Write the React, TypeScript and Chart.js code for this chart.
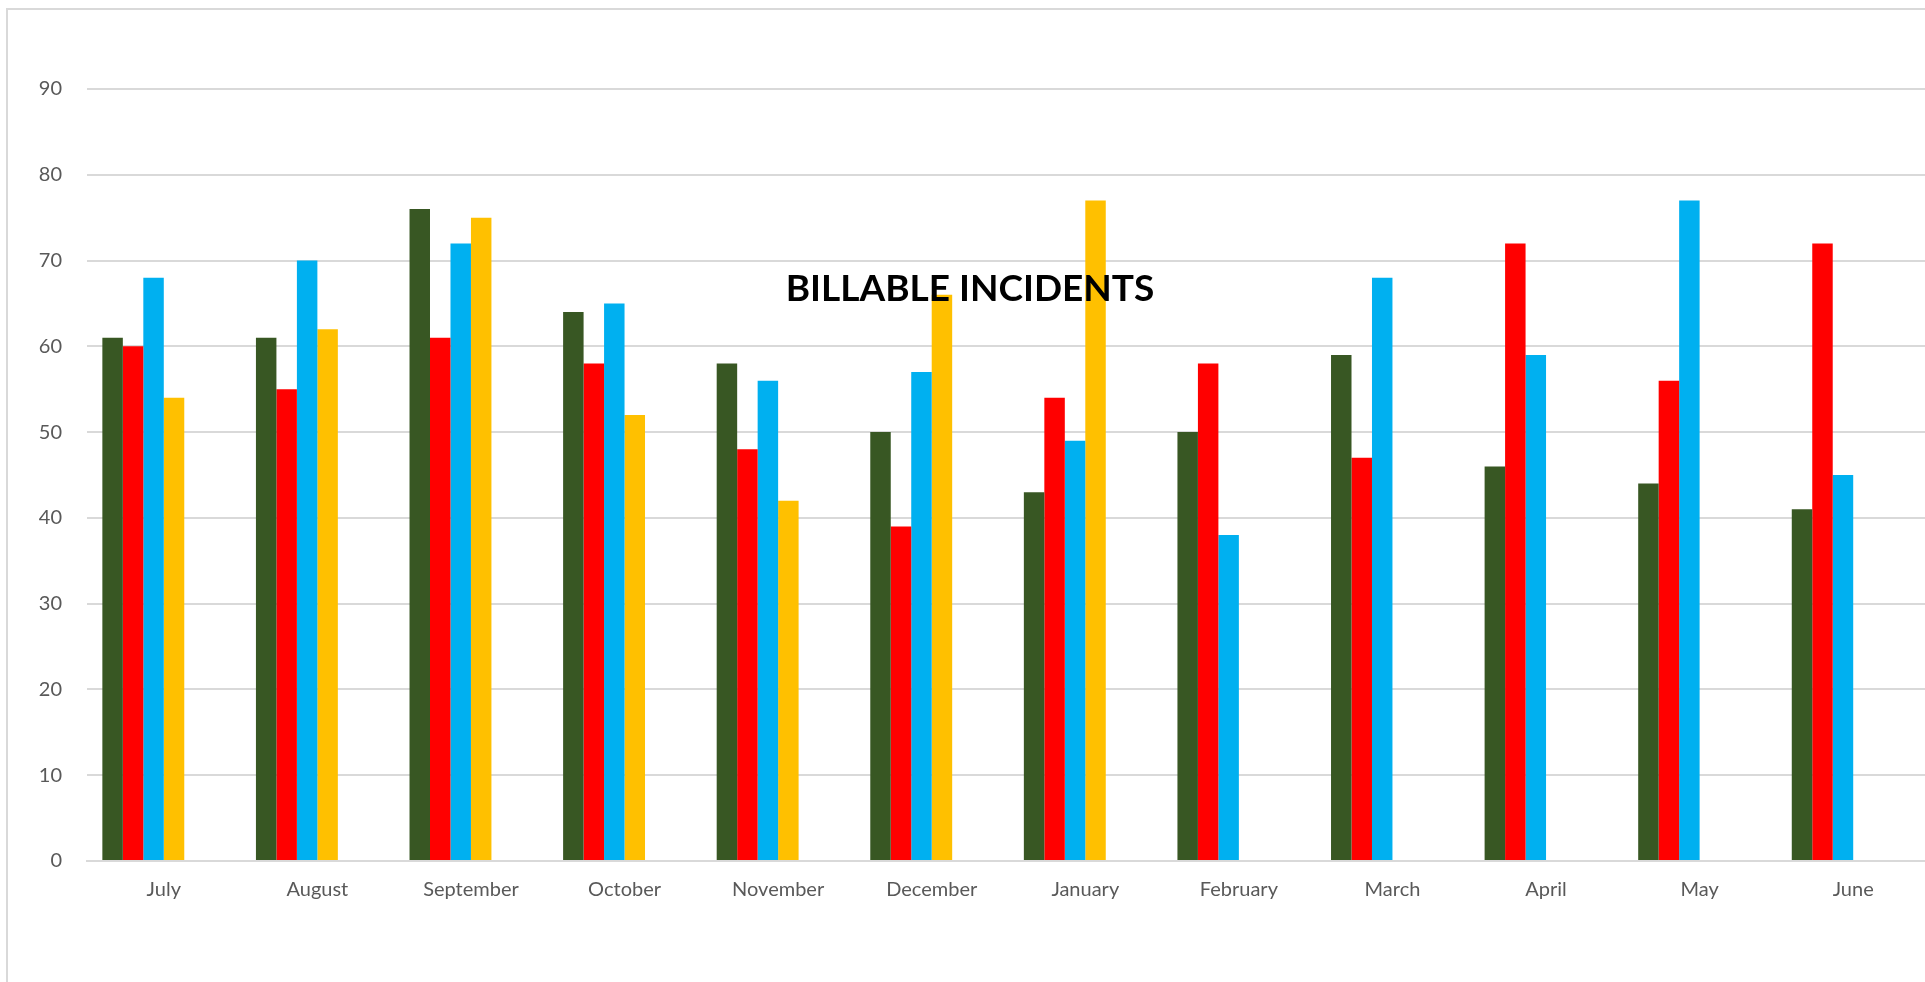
import { useEffect, useRef } from "react";
import { Chart, registerables } from "chart.js";

Chart.register(...registerables);

// Monthly billable incident counts, one array per series
const months = [
  "July", "August", "September", "October", "November", "December",
  "January", "February", "March", "April", "May", "June",
];
const seriesGreen = [61, 61, 76, 64, 58, 50, 43, 50, 59, 46, 44, 41];
const seriesRed = [60, 55, 61, 58, 48, 39, 54, 58, 47, 72, 56, 72];
const seriesBlue = [68, 70, 72, 65, 56, 57, 49, 38, 68, 59, 77, 45];
const seriesYellow = [54, 62, 75, 52, 42, 66, 77, null, null, null, null, null];
// Two further series in the workbook have no entries yet
const seriesFive = [null, null, null, null, null, null, null, null, null, null, null, null];
const seriesSix = [null, null, null, null, null, null, null, null, null, null, null, null];

const seriesColors = ["#385723", "#FF0000", "#00B0F0", "#FFC000", "#A5A5A5", "#4472C4"];
const yMin = 0;
const yMax = 90;
const yStep = 10;
const chartTitle = "BILLABLE INCIDENTS";

const overlayTitle = {
  id: "overlayTitle",
  afterDatasetsDraw(chart: any) {
    const ctx = chart.ctx;
    ctx.save();
    ctx.font = "bold 37px Lato";
    ctx.fillStyle = "#000000";
    ctx.textAlign = "center";
    ctx.textBaseline = "alphabetic";
    ctx.fillText(chartTitle, 970, 301);
    ctx.restore();
  },
};

export default function App() {
  const canvasRef = useRef<HTMLCanvasElement | null>(null);

  useEffect(() => {
    const canvas = canvasRef.current;
    if (!canvas) return;
    const series = [seriesGreen, seriesRed, seriesBlue, seriesYellow, seriesFive, seriesSix];
    const chart = new Chart(canvas, {
      type: "bar",
      data: {
        labels: months,
        datasets: series.map((values, i) => ({
          label: `Series ${i + 1}`,
          data: values,
          backgroundColor: seriesColors[i],
          borderWidth: 0,
          categoryPercentage: 0.8,
          barPercentage: 1.0,
        })),
      },
      options: {
        responsive: false,
        animation: false,
        devicePixelRatio: 1,
        layout: { padding: { top: 89, left: 0, right: 0, bottom: 0 } },
        plugins: {
          legend: { display: false },
          title: { display: false },
          tooltip: { enabled: false },
        },
        scales: {
          x: {
            grid: { display: false, drawTicks: false },
            border: { display: true, color: "#D9D9D9", width: 2 },
            ticks: {
              color: "#595959",
              font: { family: "Lato", size: 20 },
              padding: 17,
              maxRotation: 0,
              autoSkip: false,
            },
            afterFit(scale: any) {
              scale.height = 121;
            },
          },
          y: {
            min: yMin,
            max: yMax,
            grid: { color: "#D9D9D9", lineWidth: 2, drawTicks: false },
            border: { display: false },
            ticks: {
              stepSize: yStep,
              color: "#595959",
              font: { family: "Lato", size: 20 },
              padding: 25,
            },
            afterFit(scale: any) {
              scale.width = 87;
            },
          },
        },
      },
      plugins: [overlayTitle],
    });
    return () => chart.destroy();
  }, []);

  return (
    <div
      style={{
        position: "absolute",
        left: 0,
        top: 0,
        width: 1925,
        height: 982,
        overflow: "hidden",
        background: "#FFFFFF",
      }}
    >
      <div
        style={{
          position: "absolute",
          left: 6,
          top: 8,
          right: -10,
          bottom: -10,
          borderLeft: "2px solid #D9D9D9",
          borderTop: "2px solid #D9D9D9",
        }}
      />
      <canvas
        ref={canvasRef}
        width={1930}
        height={982}
        style={{ position: "absolute", left: 0, top: 0, display: "block" }}
      />
    </div>
  );
}
